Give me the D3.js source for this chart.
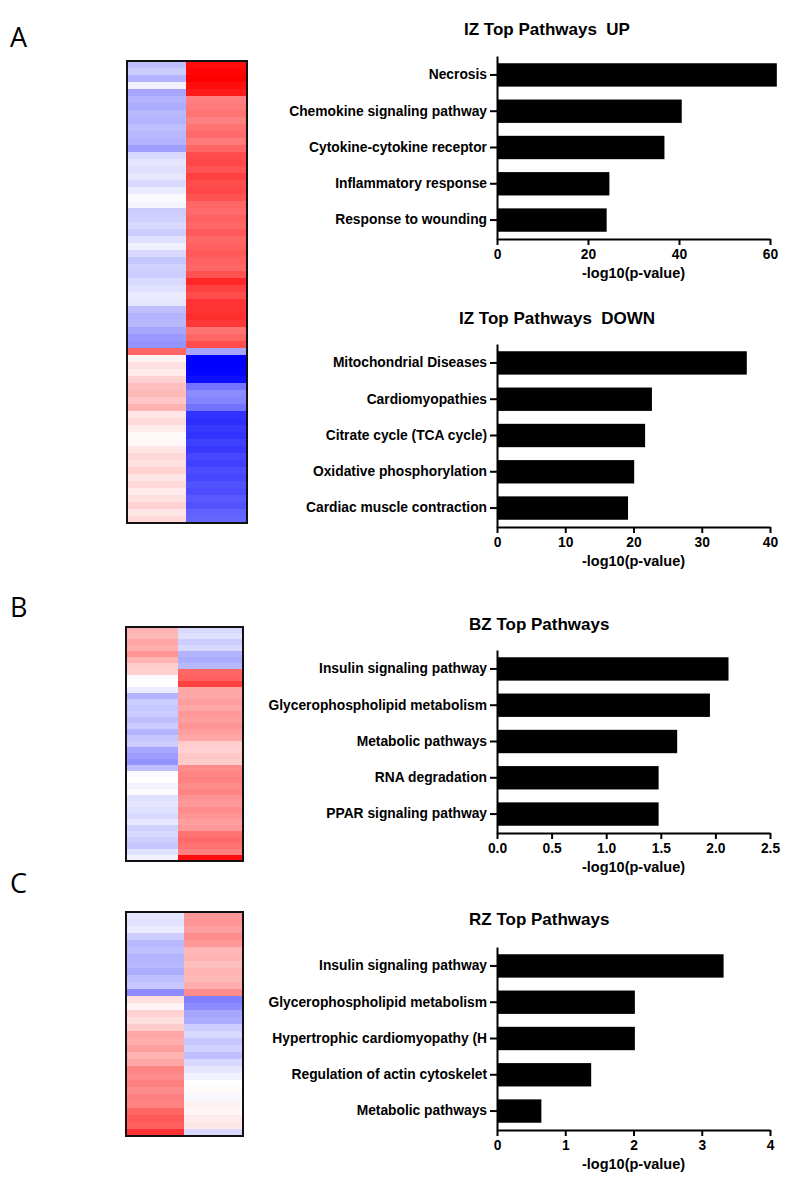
<!DOCTYPE html>
<html>
<head>
<meta charset="utf-8">
<script src="https://cdn.jsdelivr.net/npm/d3@7"></script>
<style>
  body { margin: 0; background: #fff; }
  svg { display: block; }
  .axis path, .axis line { stroke: #000; stroke-width: 2px; }
  .axis text { font-family: 'Liberation Sans', Arial, sans-serif; font-weight: bold; font-size: 13.8px; fill: #000; }
</style>
</head>
<body>
<svg width="800" height="1184"></svg>
<script>
// bar chart data
var izUpNames = ['Necrosis', 'Chemokine signaling pathway', 'Cytokine-cytokine receptor', 'Inflammatory response', 'Response to wounding'];
var izUpValues = [61.5, 40.6, 36.8, 24.7, 24.1];
var izDownNames = ['Mitochondrial Diseases', 'Cardiomyopathies', 'Citrate cycle (TCA cycle)', 'Oxidative phosphorylation', 'Cardiac muscle contraction'];
var izDownValues = [36.6, 22.7, 21.7, 20.1, 19.2];
var bzNames = ['Insulin signaling pathway', 'Glycerophospholipid metabolism', 'Metabolic pathways', 'RNA degradation', 'PPAR signaling pathway'];
var bzValues = [2.12, 1.95, 1.65, 1.48, 1.48];
var rzNames = ['Insulin signaling pathway', 'Glycerophospholipid metabolism', 'Hypertrophic cardiomyopathy (H', 'Regulation of actin cytoskelet', 'Metabolic pathways'];
var rzValues = [3.32, 2.02, 2.02, 1.38, 0.65];

var izUpTicks = [0, 20, 40, 60];
var izDownTicks = [0, 10, 20, 30, 40];
var bzTicks = [0, 0.5, 1.0, 1.5, 2.0, 2.5];
var rzTicks = [0, 1, 2, 3, 4];

// heatmap rows (log ratio, -1 blue .. 1 red), two columns each
var heatA1 = [-0.25, -0.2, -0.3, -0.05, -0.35, -0.3, -0.32, -0.28, -0.3, -0.25, -0.28, -0.3, -0.38, -0.15, -0.1, -0.12, -0.1, -0.15, -0.08, -0.02, -0.04, -0.2, -0.18, -0.15, -0.2, -0.12, -0.06, -0.15, -0.22, -0.18, -0.2, -0.15, -0.12, -0.08, -0.1, -0.25, -0.3, -0.28, -0.35, -0.4, -0.42, 0.6, 0.05, 0.12, 0.08, 0.18, 0.25, 0.28, 0.22, 0.3, 0.1, 0.15, 0.08, 0.02, 0.03, 0.1, 0.15, 0.12, 0.18, 0.1, 0.15, 0.08, 0.12, 0.18, 0.1, 0.15];
var heatA2 = [0.95, 0.98, 1.0, 0.95, 0.9, 0.5, 0.52, 0.55, 0.5, 0.55, 0.58, 0.52, 0.6, 0.7, 0.72, 0.68, 0.75, 0.7, 0.72, 0.68, 0.6, 0.58, 0.62, 0.6, 0.65, 0.6, 0.62, 0.65, 0.62, 0.6, 0.68, 0.85, 0.75, 0.7, 0.8, 0.8, 0.82, 0.78, 0.55, 0.6, 0.7, -0.35, -1.0, -1.0, -0.98, -0.95, -0.55, -0.45, -0.48, -0.55, -0.8, -0.82, -0.78, -0.8, -0.75, -0.78, -0.72, -0.75, -0.7, -0.72, -0.68, -0.7, -0.65, -0.68, -0.62, -0.6];
var heatB1 = [0.3, 0.28, 0.35, 0.32, 0.42, 0.3, 0.2, 0.18, -0.02, 0.0, -0.08, -0.3, -0.2, -0.22, -0.2, -0.25, -0.2, -0.3, -0.22, -0.2, -0.35, -0.38, -0.42, -0.25, -0.02, 0.0, -0.05, -0.02, -0.12, -0.1, -0.12, -0.15, -0.1, -0.18, -0.15, -0.2, -0.22, -0.12, -0.05];
var heatB2 = [-0.15, -0.12, -0.2, -0.15, -0.3, -0.32, -0.28, 0.6, 0.62, 0.75, 0.35, 0.35, 0.38, 0.35, 0.4, 0.38, 0.42, 0.38, 0.35, 0.2, 0.18, 0.22, 0.2, 0.45, 0.48, 0.5, 0.45, 0.48, 0.42, 0.4, 0.45, 0.42, 0.38, 0.4, 0.55, 0.58, 0.55, 0.5, 0.95];
var heatC1 = [-0.1, -0.12, -0.08, -0.2, -0.28, -0.25, -0.3, -0.28, -0.32, -0.25, -0.22, -0.45, 0.12, 0.05, 0.18, 0.12, 0.2, 0.35, 0.32, 0.38, 0.3, 0.35, 0.48, 0.45, 0.5, 0.45, 0.5, 0.48, 0.6, 0.65, 0.62, 0.8];
var heatC2 = [0.4, 0.42, 0.38, 0.45, 0.4, 0.28, 0.3, 0.25, 0.3, 0.28, 0.32, 0.45, -0.5, -0.45, -0.35, -0.32, -0.2, -0.15, -0.22, -0.18, -0.25, -0.15, -0.1, -0.05, 0.0, 0.02, -0.03, 0.05, 0.03, 0.08, 0.1, -0.15];

var svg = d3.select('svg');

var color = d3.scaleLinear()
  .domain([-1, 0, 1])
  .range(['#0000ff', '#ffffff', '#ff0000'])
  .clamp(true);

function heatmap(cols, box, split) {
  var g = svg.append('g');
  var xs = [box.x0, split, box.x1];
  cols.forEach(function(vals, c) {
    var y = d3.scaleBand()
      .domain(d3.range(vals.length))
      .range([box.y0, box.y1]);
    g.selectAll('.c' + c)
      .data(vals)
      .enter()
      .append('rect')
      .attr('x', xs[c])
      .attr('width', xs[c + 1] - xs[c])
      .attr('y', (d, i) => y(i))
      .attr('height', y.bandwidth() + 0.5)
      .attr('fill', d => color(d));
  });
  g.append('rect')
    .attr('x', box.x0)
    .attr('y', box.y0)
    .attr('width', box.x1 - box.x0)
    .attr('height', box.y1 - box.y0)
    .attr('fill', 'none')
    .attr('stroke', '#111')
    .attr('stroke-width', 2);
}

heatmap([heatA1, heatA2], {x0: 127, x1: 247, y0: 61, y1: 523}, 186);
heatmap([heatB1, heatB2], {x0: 126, x1: 243, y0: 627, y1: 861}, 178);
heatmap([heatC1, heatC2], {x0: 126, x1: 243, y0: 912, y1: 1136}, 184);

function barChart(names, values, ticks, fmt, top, title, titleX, titleY) {
  var left = 497, right = 770, height = 183;
  var g = svg.append('g').attr('transform', 'translate(0,' + top + ')');

  var x = d3.scaleLinear()
    .domain([0, ticks[ticks.length - 1]])
    .range([left, right]);
  var y = d3.scaleBand()
    .domain(names)
    .range([0, height])
    .paddingInner(0.356)
    .paddingOuter(0.2);

  g.selectAll('.bar')
    .data(values)
    .enter()
    .append('rect')
    .attr('class', 'bar')
    .attr('x', x(0))
    .attr('y', (d, i) => y(names[i]))
    .attr('width', d => x(d) - x(0))
    .attr('height', y.bandwidth())
    .attr('fill', '#000');

  g.append('g')
    .attr('class', 'axis')
    .attr('transform', 'translate(' + left + ',0)')
    .call(d3.axisLeft(y).tickSize(7).tickSizeOuter(0).tickPadding(3));

  g.append('g')
    .attr('class', 'axis')
    .attr('transform', 'translate(0,' + height + ')')
    .call(d3.axisBottom(x).tickValues(ticks).tickFormat(fmt).tickSize(6).tickSizeOuter(0).tickPadding(4));

  g.append('text')
    .attr('x', (left + right) / 2)
    .attr('y', height + 39)
    .attr('text-anchor', 'middle')
    .style('font', 'bold 14.5px "Liberation Sans", Arial, sans-serif')
    .text('-log10(p-value)');

  svg.append('text')
    .attr('x', titleX)
    .attr('y', titleY)
    .attr('xml:space', 'preserve')
    .style('font', 'bold 17px "Liberation Sans", Arial, sans-serif')
    .style('white-space', 'pre')
    .text(title);
}

barChart(izUpNames, izUpValues, izUpTicks, d3.format('d'), 56, 'IZ Top Pathways  UP', 464, 35);
barChart(izDownNames, izDownValues, izDownTicks, d3.format('d'), 344, 'IZ Top Pathways  DOWN', 459, 324);
barChart(bzNames, bzValues, bzTicks, d3.format('.1f'), 650, 'BZ Top Pathways', 469, 630);
barChart(rzNames, rzValues, rzTicks, d3.format('d'), 947, 'RZ Top Pathways', 469, 925);

// panel letters
var panelLetters = ['A', 'B', 'C'];
var letterY = [47, 617, 893];
svg.selectAll('.letter')
  .data(panelLetters)
  .enter()
  .append('text')
  .attr('class', 'letter')
  .attr('x', 10)
  .attr('y', (d, i) => letterY[i])
  .style('font', '27px "Open Sans", sans-serif')
  .text(d => d);
</script>
</body>
</html>
